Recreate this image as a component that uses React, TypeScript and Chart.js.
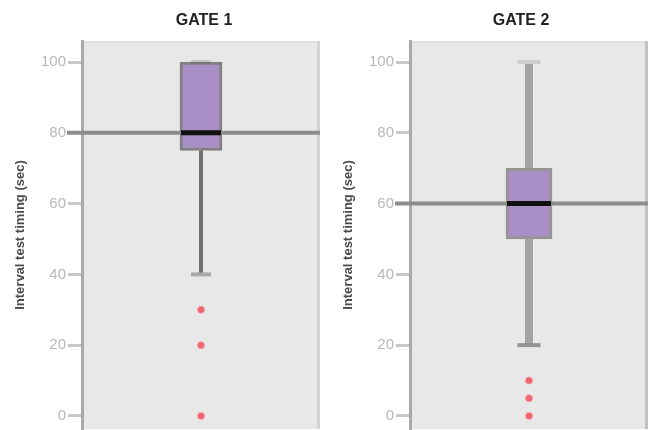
import React, { useEffect, useRef } from 'react';
import { Chart, registerables } from 'chart.js';

Chart.register(...registerables);

// ---- data ----
const gateNames = ['GATE 1', 'GATE 2'];
const lowerWhisker = [40, 20];
const q1Values = [75, 50];
const medianValues = [80, 60];
const q3Values = [100, 70];
const upperWhisker = [100, 100];
const gate1Outliers = [30, 20, 0];
const gate2Outliers = [10, 5, 0];
const outlierLists = [gate1Outliers, gate2Outliers];
const referenceValues = [80, 60];
const yTickValues = [0, 20, 40, 60, 80, 100];
const yAxisTitle = 'Interval test timing (sec)';

// ---- per-panel styling ----
const panelStyles = [
  {
    axisWidth: 82, padRight: 8, titleX: 204, boxWidth: 42, rightBorder: '#d3d3d3',
    boxBorder: 'rgba(85,85,85,0.7)', whiskerWidth: 4, whiskerColor: '#707070',
    capWidth: 20, capTop: '#c8c8c8', capBottom: '#a8a8a8',
  },
  {
    axisWidth: 82, padRight: 8, titleX: 193, boxWidth: 46, rightBorder: '#c2c2c2',
    boxBorder: 'rgba(140,140,140,0.9)', whiskerWidth: 8, whiskerColor: '#a4a4a4',
    capWidth: 23, capTop: '#cdcdcd', capBottom: '#939393',
  },
];

const FONT = '"Liberation Sans", Arial, Helvetica, sans-serif';

const boxExtras = {
  id: 'boxExtras',
  beforeDraw(chart: any, _a: any, opts: any) {
    const st = panelStyles[opts.index];
    const { ctx, chartArea: ca } = chart;
    ctx.save();
    ctx.fillStyle = '#e8e8e8';
    ctx.fillRect(ca.left, ca.top, ca.right - ca.left, ca.bottom - ca.top);
    ctx.fillStyle = '#e1e1e1';
    ctx.fillRect(ca.left, ca.top, ca.right - ca.left, 2);
    ctx.fillStyle = st.rightBorder;
    ctx.fillRect(ca.right - 3, ca.top, 3, ca.bottom - ca.top);
    ctx.restore();
  },
  beforeDatasetsDraw(chart: any, _a: any, opts: any) {
    const i = opts.index;
    const st = panelStyles[i];
    const { ctx } = chart;
    const xs = chart.scales.x;
    const ys = chart.scales.y;
    const cx = xs.getPixelForValue(0);
    ctx.save();
    ctx.strokeStyle = st.whiskerColor;
    ctx.lineWidth = st.whiskerWidth;
    ctx.beginPath();
    ctx.moveTo(cx, ys.getPixelForValue(q3Values[i]));
    ctx.lineTo(cx, ys.getPixelForValue(upperWhisker[i]));
    ctx.moveTo(cx, ys.getPixelForValue(q1Values[i]));
    ctx.lineTo(cx, ys.getPixelForValue(lowerWhisker[i]));
    ctx.stroke();
    ctx.lineWidth = 4;
    ctx.strokeStyle = st.capTop;
    ctx.beginPath();
    const yt = ys.getPixelForValue(upperWhisker[i]);
    ctx.moveTo(cx - st.capWidth / 2, yt);
    ctx.lineTo(cx + st.capWidth / 2, yt);
    ctx.stroke();
    ctx.strokeStyle = st.capBottom;
    ctx.beginPath();
    const yb = ys.getPixelForValue(lowerWhisker[i]);
    ctx.moveTo(cx - st.capWidth / 2, yb);
    ctx.lineTo(cx + st.capWidth / 2, yb);
    ctx.stroke();
    ctx.restore();
  },
  afterDatasetsDraw(chart: any, _a: any, opts: any) {
    const i = opts.index;
    const st = panelStyles[i];
    const { ctx, chartArea: ca } = chart;
    const xs = chart.scales.x;
    const ys = chart.scales.y;
    const cx = xs.getPixelForValue(0);
    ctx.save();
    const yr = ys.getPixelForValue(referenceValues[i]);
    ctx.strokeStyle = '#8c8c8c';
    ctx.lineWidth = 4;
    ctx.beginPath();
    ctx.moveTo(ca.left - 15, yr);
    ctx.lineTo(ca.right, yr);
    ctx.stroke();
    const ym = ys.getPixelForValue(medianValues[i]);
    ctx.strokeStyle = '#111111';
    ctx.lineWidth = 5;
    ctx.beginPath();
    ctx.moveTo(cx - st.boxWidth / 2 + 1, ym);
    ctx.lineTo(cx + st.boxWidth / 2 - 1, ym);
    ctx.stroke();
    ctx.restore();
  },
  afterDraw(chart: any, _a: any, opts: any) {
    const i = opts.index;
    const st = panelStyles[i];
    const { ctx } = chart;
    ctx.save();
    ctx.font = `bold 16px ${FONT}`;
    ctx.fillStyle = '#222222';
    ctx.textAlign = 'center';
    ctx.textBaseline = 'middle';
    ctx.fillText(gateNames[i], st.titleX, 21);
    ctx.restore();
  },
};

function GatePanel({ index }: { index: number }) {
  const ref = useRef<HTMLCanvasElement>(null);
  useEffect(() => {
    const st = panelStyles[index];
    const chart = new Chart(ref.current as HTMLCanvasElement, {
      type: 'bar',
      data: {
        labels: [gateNames[index]],
        datasets: [
          {
            type: 'scatter',
            data: outlierLists[index].map((v) => ({ x: gateNames[index], y: v })),
            backgroundColor: 'rgba(240,88,100,0.9)',
            borderColor: 'rgba(245,150,160,0.8)',
            borderWidth: 1,
            pointRadius: 3.5,
            pointStyle: 'circle',
          } as any,
          {
            type: 'bar',
            data: [[q1Values[index], q3Values[index]]],
            backgroundColor: '#a98fc5',
            borderColor: st.boxBorder,
            borderWidth: 3,
            borderSkipped: false,
            barThickness: st.boxWidth,
          } as any,
        ],
      },
      options: {
        animation: false,
        responsive: false,
        maintainAspectRatio: false,
        layout: { padding: { top: 41, right: st.padRight, bottom: 0, left: 0 } },
        plugins: {
          legend: { display: false },
          tooltip: { enabled: false },
          title: { display: false },
          boxExtras: { index },
        } as any,
        scales: {
          x: { type: 'category', display: false, offset: true },
          y: {
            type: 'linear',
            min: -3.7,
            max: 105.95,
            afterBuildTicks: (scale: any) => {
              scale.ticks = yTickValues.map((v) => ({ value: v }));
            },
            afterFit: (scale: any) => {
              scale.width = st.axisWidth;
            },
            ticks: {
              color: '#b8b8b8',
              font: { family: FONT, size: 15 },
              padding: 2,
            },
            grid: {
              drawOnChartArea: false,
              drawTicks: true,
              tickLength: 14,
              color: '#c8c8c8',
              lineWidth: 3,
            },
            border: { display: true, color: '#a9a9a9', width: 3 },
            title: {
              display: true,
              text: yAxisTitle,
              color: '#4a4a4a',
              font: { family: FONT, size: 13, weight: 'bold' },
              padding: { top: 13, bottom: 0 },
            },
          },
        },
      } as any,
      plugins: [boxExtras],
    });
    return () => chart.destroy();
  }, [index]);
  return <canvas ref={ref} width={328} height={440} style={{ display: 'block', width: 328, height: 440 }} />;
}

export default function App() {
  return (
    <div style={{ position: 'absolute', left: 0, top: 0, width: 656, height: 430, overflow: 'hidden', display: 'flex', background: '#ffffff' }}>
      <GatePanel index={0} />
      <GatePanel index={1} />
    </div>
  );
}
